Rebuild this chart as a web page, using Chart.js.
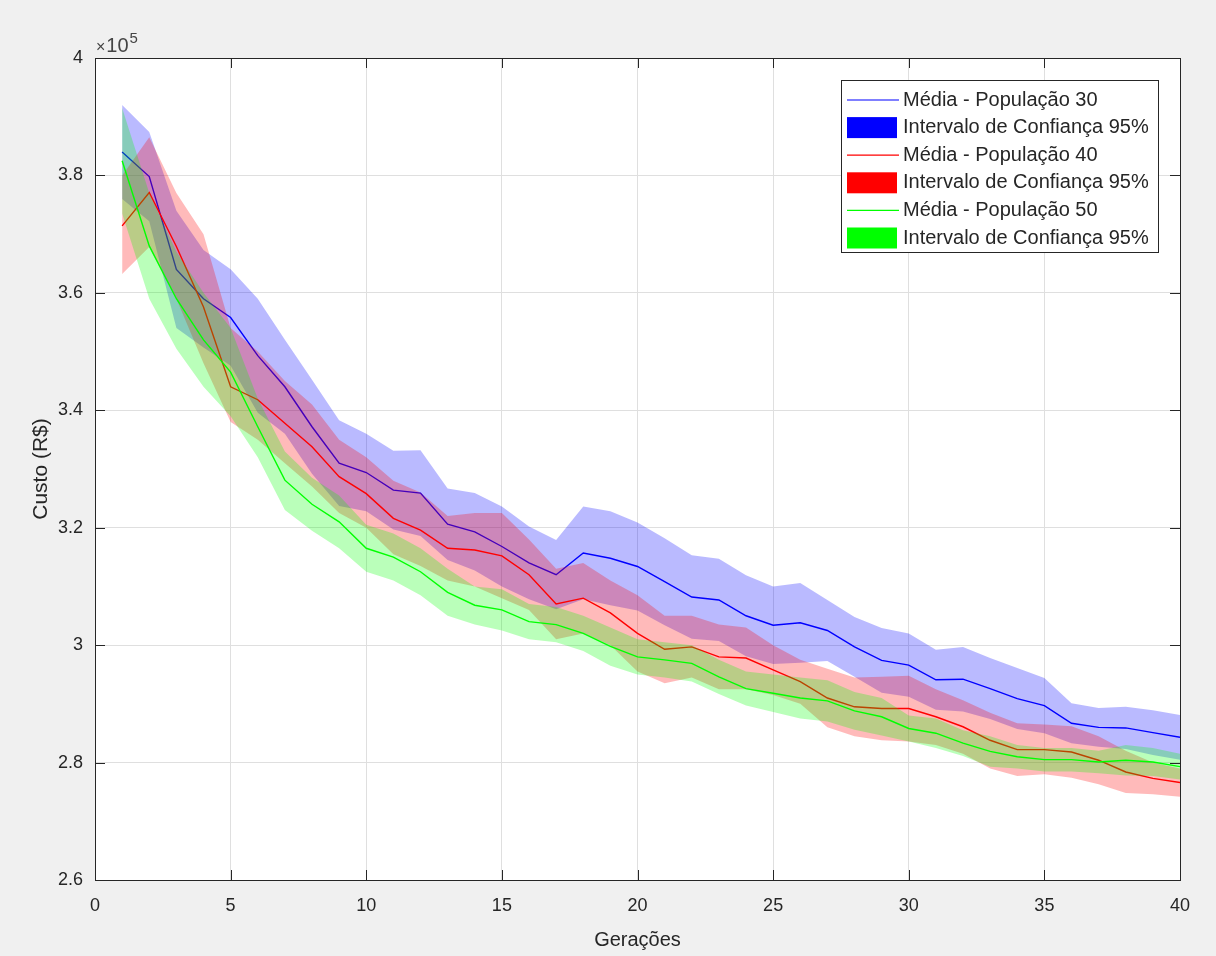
<!DOCTYPE html>
<html>
<head>
<meta charset="utf-8">
<title>Custo x Gerações</title>
<script src="https://cdn.jsdelivr.net/npm/chart.js@4.4.1/dist/chart.umd.min.js"></script>
<style>
  html, body { margin: 0; padding: 0; background: #f0f0f0; }
  #wrap { width: 1216px; height: 956px; }
</style>
</head>
<body>
<div id="wrap"><canvas id="chart" width="1216" height="956"></canvas></div>
<script>
// ── Data (custo em unidades de 10^5 R$) ───────────────────────
const GENERATIONS = [1,2,3,4,5,6,7,8,9,10,11,12,13,14,15,16,17,18,19,20,
                     21,22,23,24,25,26,27,28,29,30,31,32,33,34,35,36,37,38,39,40];

const POP30_MEAN  = [3.840,3.798,3.640,3.590,3.558,3.493,3.440,3.372,3.310,3.294,3.264,3.259,3.206,3.193,3.168,3.140,3.120,3.157,3.148,3.134,
                     3.108,3.082,3.077,3.050,3.034,3.038,3.025,2.997,2.974,2.966,2.941,2.942,2.926,2.909,2.897,2.867,2.860,2.859,2.851,2.843];
const POP30_UPPER = [3.920,3.874,3.740,3.673,3.640,3.590,3.520,3.452,3.383,3.360,3.331,3.332,3.267,3.259,3.236,3.202,3.179,3.236,3.228,3.209,
                     3.182,3.153,3.147,3.119,3.100,3.106,3.077,3.048,3.029,3.020,2.992,2.997,2.978,2.961,2.944,2.901,2.893,2.895,2.889,2.881];
const POP30_LOWER = [3.760,3.722,3.540,3.507,3.476,3.396,3.360,3.292,3.237,3.228,3.197,3.186,3.145,3.127,3.100,3.078,3.061,3.078,3.068,3.059,
                     3.034,3.011,3.007,2.981,2.968,2.970,2.973,2.946,2.919,2.912,2.890,2.887,2.874,2.857,2.850,2.833,2.827,2.823,2.813,2.805];

const POP40_MEAN  = [3.714,3.771,3.679,3.576,3.440,3.418,3.378,3.338,3.287,3.258,3.216,3.196,3.165,3.162,3.152,3.120,3.070,3.080,3.055,3.020,
                     2.993,2.997,2.980,2.978,2.958,2.938,2.910,2.895,2.892,2.892,2.878,2.861,2.838,2.822,2.822,2.818,2.804,2.784,2.773,2.766];
const POP40_UPPER = [3.800,3.865,3.770,3.700,3.540,3.500,3.450,3.410,3.350,3.320,3.280,3.260,3.220,3.225,3.225,3.180,3.130,3.140,3.110,3.085,
                     3.050,3.050,3.035,3.030,3.000,2.975,2.960,2.945,2.946,2.948,2.925,2.906,2.885,2.867,2.865,2.862,2.845,2.820,2.800,2.790];
const POP40_LOWER = [3.632,3.678,3.590,3.480,3.380,3.350,3.310,3.270,3.225,3.200,3.155,3.135,3.110,3.100,3.080,3.060,3.010,3.020,3.000,2.955,
                     2.935,2.945,2.925,2.925,2.915,2.900,2.860,2.845,2.838,2.836,2.830,2.815,2.790,2.777,2.780,2.774,2.763,2.748,2.746,2.742];

const POP50_MEAN  = [3.825,3.680,3.590,3.520,3.465,3.372,3.281,3.240,3.210,3.165,3.150,3.125,3.090,3.068,3.060,3.040,3.035,3.020,2.998,2.980,
                     2.975,2.969,2.946,2.926,2.918,2.910,2.905,2.888,2.878,2.858,2.850,2.833,2.819,2.810,2.805,2.805,2.801,2.804,2.801,2.793];
const POP50_UPPER = [3.915,3.770,3.670,3.600,3.540,3.420,3.330,3.285,3.255,3.205,3.190,3.165,3.130,3.100,3.095,3.070,3.065,3.050,3.030,3.010,
                     3.005,3.000,2.975,2.955,2.950,2.945,2.940,2.920,2.910,2.880,2.875,2.855,2.845,2.830,2.825,2.825,2.820,2.830,2.825,2.815];
const POP50_LOWER = [3.735,3.590,3.505,3.440,3.390,3.320,3.230,3.195,3.165,3.125,3.110,3.085,3.050,3.035,3.025,3.010,3.005,2.990,2.965,2.950,
                     2.945,2.938,2.917,2.897,2.886,2.875,2.870,2.856,2.846,2.836,2.825,2.811,2.793,2.790,2.785,2.785,2.782,2.778,2.777,2.771];

const MEAN_LABELS = ['Média - População 30', 'Média - População 40', 'Média - População 50'];
const BAND_LABEL  = 'Intervalo de Confiança 95%';
const Y_EXPONENT  = 5;

// ── Style ─────────────────────────────────────────────────────
const AXIS_COLOR = '#262626';
const GRID_COLOR = '#dfdfdf';
const FONT = "'Liberation Sans', Arial, sans-serif";
const TICK_LEN = 10;
const SERIES = [
    { mean: POP30_MEAN, upper: POP30_UPPER, lower: POP30_LOWER, label: MEAN_LABELS[0], line: '#0000ff', band: 'rgba(0,0,255,0.27)', solid: '#0000ff' },
    { mean: POP40_MEAN, upper: POP40_UPPER, lower: POP40_LOWER, label: MEAN_LABELS[1], line: '#ff0000', band: 'rgba(255,0,0,0.27)', solid: '#ff0000' },
    { mean: POP50_MEAN, upper: POP50_UPPER, lower: POP50_LOWER, label: MEAN_LABELS[2], line: '#00ff00', band: 'rgba(0,255,0,0.27)', solid: '#00ff00' },
];

const toPoints = arr => arr.map((v, i) => ({ x: GENERATIONS[i], y: v }));

// MATLAB draws fill, then line, per population → later ones on top.
// Chart.js: higher `order` is drawn first.
function buildDatasets() {
    const out = [];
    SERIES.forEach((s, k) => {
        const base = (SERIES.length - k) * 10;
        out.push({ label: BAND_LABEL, data: toPoints(s.upper), borderWidth: 0, pointRadius: 0,
                   backgroundColor: s.band, fill: { target: '+1' }, order: base + 2 });
        out.push({ label: '_lower', data: toPoints(s.lower), borderWidth: 0, pointRadius: 0,
                   fill: false, order: base + 2 });
        out.push({ label: s.label, data: toPoints(s.mean), borderColor: s.line, borderWidth: 1.4,
                   pointRadius: 0, fill: false, order: base + 1 });
    });
    return out;
}

// ── MATLAB-like axes box, inner ticks, exponent and legend ────
const matlabAxes = {
    id: 'matlabAxes',
    beforeDraw(chart) {
        const { ctx, chartArea: a } = chart;
        ctx.save();
        ctx.fillStyle = '#f0f0f0';
        ctx.fillRect(0, 0, chart.width, chart.height);
        ctx.fillStyle = '#ffffff';
        ctx.fillRect(a.left, a.top, a.right - a.left, a.bottom - a.top);
        ctx.restore();
    },
    afterDraw(chart) {
        const { ctx, chartArea: a, scales: { x, y } } = chart;
        ctx.save();
        ctx.strokeStyle = AXIS_COLOR;
        ctx.lineWidth = 1;
        ctx.beginPath();
        x.ticks.forEach(t => {
            const px = Math.round(x.getPixelForValue(t.value)) + 0.5;
            ctx.moveTo(px, a.bottom); ctx.lineTo(px, a.bottom - TICK_LEN);
            ctx.moveTo(px, a.top);    ctx.lineTo(px, a.top + TICK_LEN);
        });
        y.ticks.forEach(t => {
            const py = Math.round(y.getPixelForValue(t.value)) + 0.5;
            ctx.moveTo(a.left, py);  ctx.lineTo(a.left + TICK_LEN, py);
            ctx.moveTo(a.right, py); ctx.lineTo(a.right - TICK_LEN, py);
        });
        ctx.stroke();
        ctx.strokeRect(Math.round(a.left) + 0.5, Math.round(a.top) + 0.5,
                       Math.round(a.right - a.left), Math.round(a.bottom - a.top));

        // ×10^5
        ctx.fillStyle = '#444444';
        ctx.textBaseline = 'alphabetic';
        ctx.textAlign = 'left';
        ctx.font = `16px ${FONT}`;
        ctx.fillText('×', a.left + 1, a.top - 6);
        let xo = a.left + 1 + ctx.measureText('×').width + 1;
        ctx.font = `20px ${FONT}`;
        ctx.fillText('10', xo, a.top - 6);
        xo += ctx.measureText('10').width + 1;
        ctx.font = `15px ${FONT}`;
        ctx.fillText(String(Y_EXPONENT), xo, a.top - 15);

        // legend
        const L = { left: 841, top: 80, right: 1158, bottom: 252 };
        ctx.fillStyle = '#ffffff';
        ctx.fillRect(L.left, L.top, L.right - L.left, L.bottom - L.top);
        ctx.strokeStyle = AXIS_COLOR;
        ctx.strokeRect(L.left + 0.5, L.top + 0.5, L.right - L.left, L.bottom - L.top);
        const rowH = 27.6;
        let yc = L.top + 20;
        ctx.font = `20px ${FONT}`;
        ctx.textBaseline = 'middle';
        SERIES.forEach(s => {
            ctx.strokeStyle = s.line;
            ctx.lineWidth = 1.2;
            ctx.beginPath(); ctx.moveTo(847, yc); ctx.lineTo(899, yc); ctx.stroke();
            ctx.fillStyle = AXIS_COLOR;
            ctx.fillText(s.label, 903, yc);
            yc += rowH;
            ctx.fillStyle = s.solid;
            ctx.fillRect(847, yc - 10.5, 50, 21);
            ctx.fillStyle = AXIS_COLOR;
            ctx.fillText(BAND_LABEL, 903, yc);
            yc += rowH;
        });
        ctx.restore();
    }
};

const fmtTick = v => String(Math.round(v * 10) / 10);

new Chart(document.getElementById('chart'), {
    type: 'line',
    data: { datasets: buildDatasets() },
    options: {
        responsive: false,
        devicePixelRatio: 1,
        animation: false,
        layout: { padding: { top: 58, right: 36, left: 0, bottom: 0 } },
        plugins: {
            legend: { display: false },
            tooltip: { enabled: false },
            filler: { drawTime: 'beforeDatasetDraw' },
        },
        elements: { line: { tension: 0 } },
        scales: {
            x: {
                type: 'linear', min: 0, max: 40,
                afterFit: s => { s.height = 76; },
                ticks: { stepSize: 5, color: AXIS_COLOR, font: { family: FONT, size: 18 }, padding: 15, maxRotation: 0 },
                grid: { color: GRID_COLOR, drawTicks: false },
                border: { display: false },
                title: { display: true, text: 'Gerações', color: AXIS_COLOR,
                         font: { family: FONT, size: 20 }, padding: { top: 0, bottom: 4 } },
            },
            y: {
                type: 'linear', min: 2.6, max: 4,
                afterFit: s => { s.width = 95; },
                ticks: { stepSize: 0.2, color: AXIS_COLOR, font: { family: FONT, size: 18 }, padding: 12,
                         callback: v => fmtTick(v) },
                grid: { color: GRID_COLOR, drawTicks: false },
                border: { display: false },
                title: { display: true, text: 'Custo (R$)', color: AXIS_COLOR,
                         font: { family: FONT, size: 21 }, padding: { top: 29, bottom: 0 } },
            },
        },
    },
    plugins: [matlabAxes],
});
</script>
</body>
</html>
